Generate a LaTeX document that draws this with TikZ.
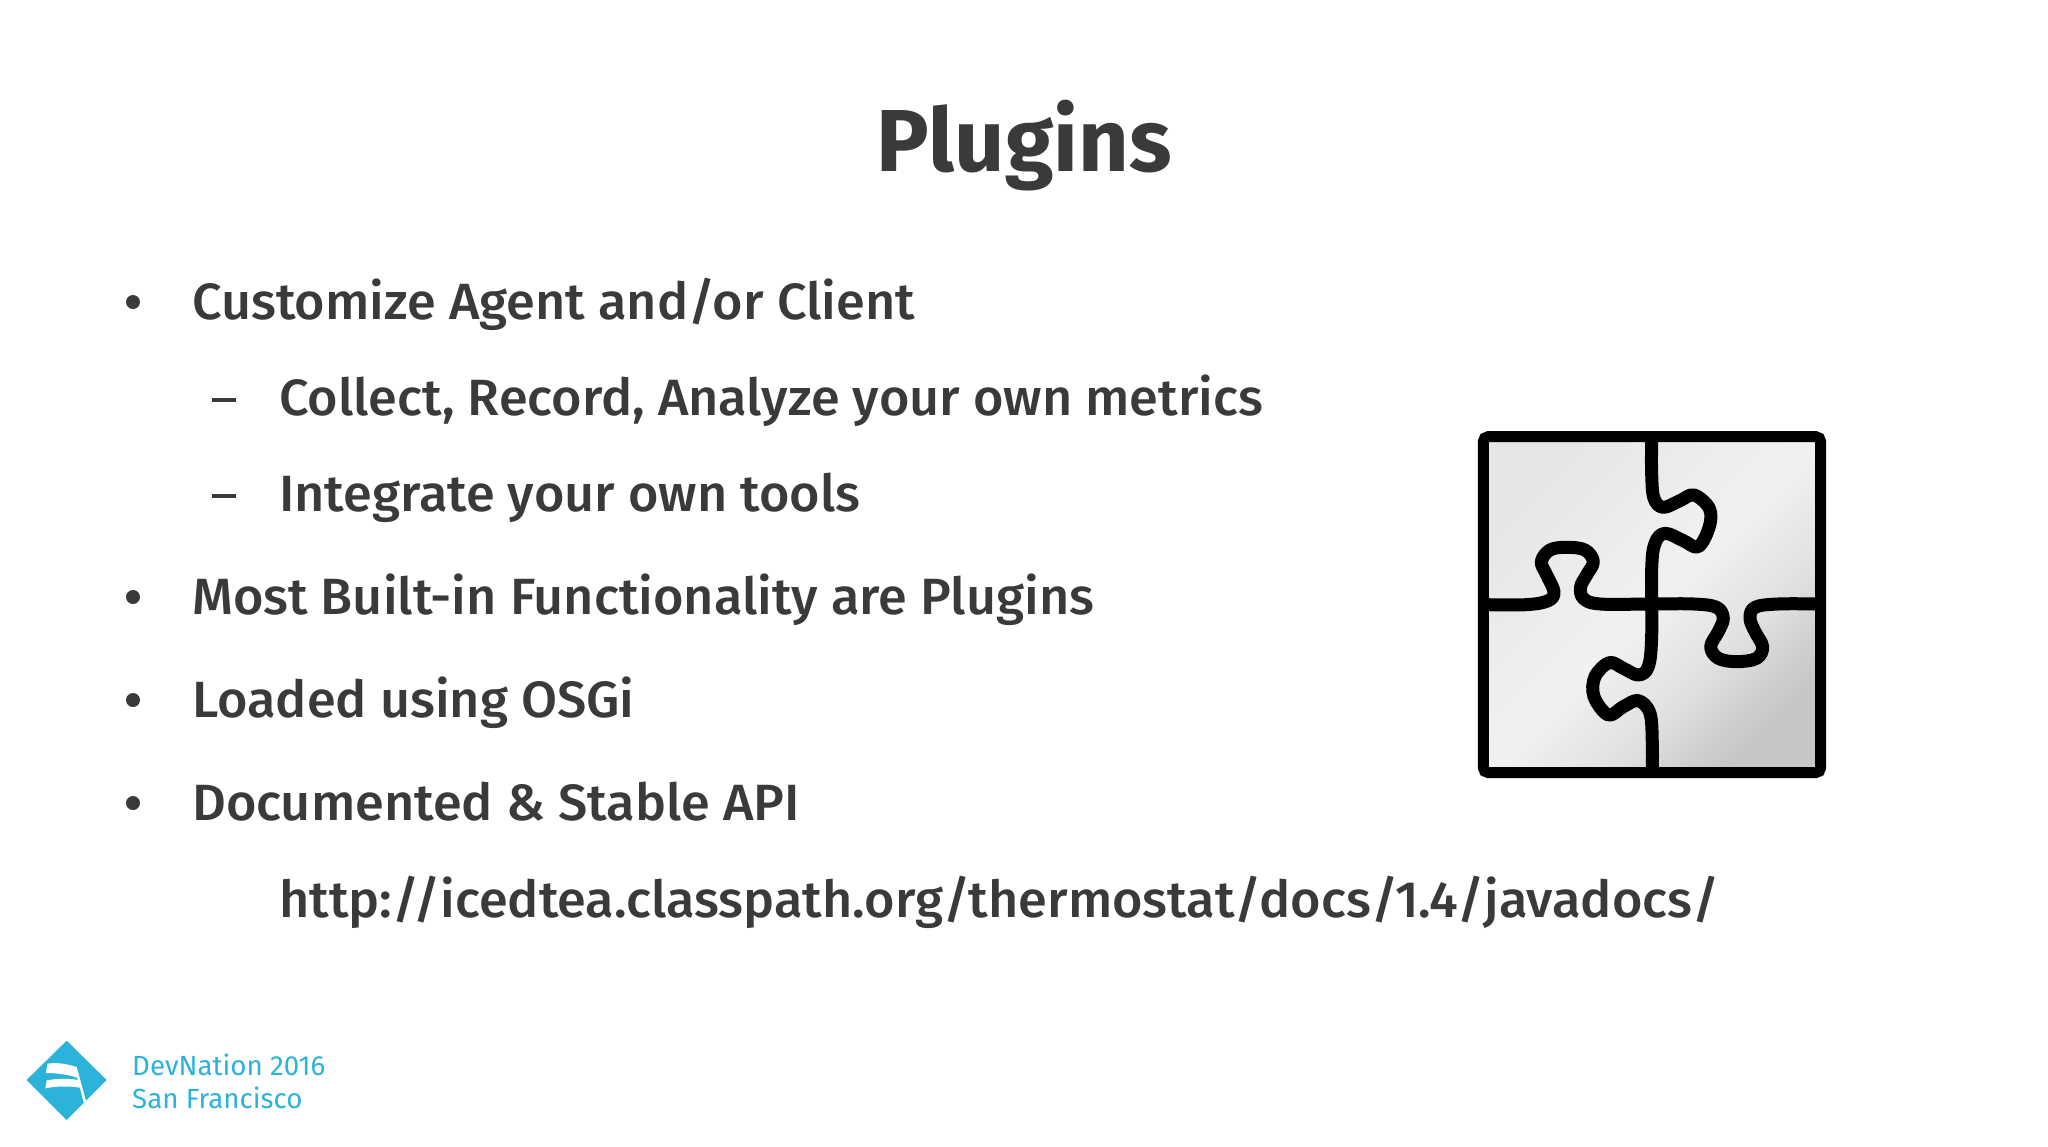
\documentclass[tikz,border=0pt]{standalone}
\usepackage{fontspec}
\setmainfont{Fira Sans}
\newfontfamily\medfont[FakeStretch=1.024]{Fira Sans Medium}
\newfontfamily\logofont{Fira Sans}
\usetikzlibrary{calc}
\definecolor{ink}{HTML}{3A3A3A}
\definecolor{dn}{HTML}{2BB3DA}
\definecolor{pa}{HTML}{C6C6C6}
\definecolor{pb}{HTML}{E2E2E2}
\definecolor{pc}{HTML}{F1F1F1}
\definecolor{pd}{HTML}{E6E6E6}
\pgfdeclareverticalshading{puzshade}{100bp}{color(0bp)=(pa); color(25bp)=(pa); color(38bp)=(pb); color(50bp)=(pc); color(75bp)=(pd); color(100bp)=(pd)}
\tikzset{
  x=1pt,y=-1pt,
  titletext/.style={anchor=base,text=ink,font=\fontsize{88}{88}\selectfont\bfseries,inner sep=0},
  bodytext/.style={anchor=base west,text=ink,font=\medfont\fontsize{51}{51}\selectfont,inner sep=0},
  logotext/.style={anchor=base west,text=dn,font=\logofont\fontsize{27.7}{27.7}\selectfont,inner sep=0},
  puzzleline/.style={line width=13pt,line join=round,line cap=butt,black},
}
\begin{document}
\begin{tikzpicture}
\useasboundingbox (0,0) rectangle (2048,1146);
\fill[white] (0,0) rectangle (2048,1146);
\node[titletext] (title) at (1024,171) {Plugins};
\node[bodytext] (b1) at (192,319) {Customize Agent and/or Client};
\node[bodytext] (b1a) at (279,415) {Collect, Record, Analyze your own metrics};
\node[bodytext] (b1b) at (279,511) {Integrate your own tools};
\node[bodytext] (b2) at (192,614) {Most Built-in Functionality are Plugins};
\node[bodytext] (b3) at (192,717) {Loaded using OSGi};
\node[bodytext] (b4) at (192,820) {Documented \& Stable API};
\node[bodytext] (url) at (279,917) {http://icedtea.classpath.org/thermostat/docs/1.4/javadocs/};
\foreach \n/\yy in {m1/302,m2/597,m3/700,m4/803}
  \fill[ink] (133,\yy) circle (7);
\foreach \n/\yy in {d1/398,d2/494}
  \fill[ink] (212,\yy) rectangle (236,\yy+3.5);
\begin{scope}[shift={(1450,410)},x=0.3333pt,y=-0.3333pt]
  \shade[shading=puzshade,shading angle=45] (100,80) rectangle (1112,1088);
  \draw[puzzleline] plot[smooth,tension=0.6] coordinates {(605,85) (605,190) (612,265) (640,292) (690,272) (732,255) (778,295) (778,350) (745,410) (700,392) (645,370) (615,400) (605,480) (605,680) (595,770) (565,795) (520,775) (478,758) (435,800) (432,860) (475,915) (520,890) (565,872) (600,910) (607,1000) (607,1085)};
  \draw[puzzleline] plot[smooth,tension=0.6] coordinates {(105,584) (230,584) (295,572) (312,545) (290,495) (274,455) (300,420) (350,412) (405,420) (430,455) (410,495) (392,530) (400,565) (450,582) (605,582) (730,582) (800,592) (820,625) (805,665) (782,710) (805,745) (860,755) (920,745) (938,710) (915,665) (900,625) (915,592) (985,582) (1105,582)};
  \draw[line width=11pt,rounded corners=5pt,black] (100,80) rectangle (1112,1088);
\end{scope}
\begin{scope}[shift={(0,1020)},x=0.3333pt,y=-0.3333pt]
  \fill[dn] (200,62) -- (320,180) -- (200,300) -- (80,180) -- cycle;
\end{scope}
\begin{scope}[shift={(20,1035)},x=0.3333pt,y=-0.3333pt]
  \fill[white] (82,86) .. controls (110,82) and (140,86) .. (165,95) -- (172,128) .. controls (140,118) and (110,114) .. (78,114) -- cycle;
  \fill[white] (80,136) .. controls (115,130) and (145,130) .. (174,135) -- (180,158) .. controls (145,153) and (110,153) .. (76,160) -- cycle;
  \fill[white] (163,95) -- (170,95) -- (198,198) -- (191,202) -- cycle;
\end{scope}
\node[logotext] (l1) at (132,1075) {DevNation 2016};
\node[logotext] (l2) at (132,1108) {San Francisco};
\end{tikzpicture}
\end{document}
